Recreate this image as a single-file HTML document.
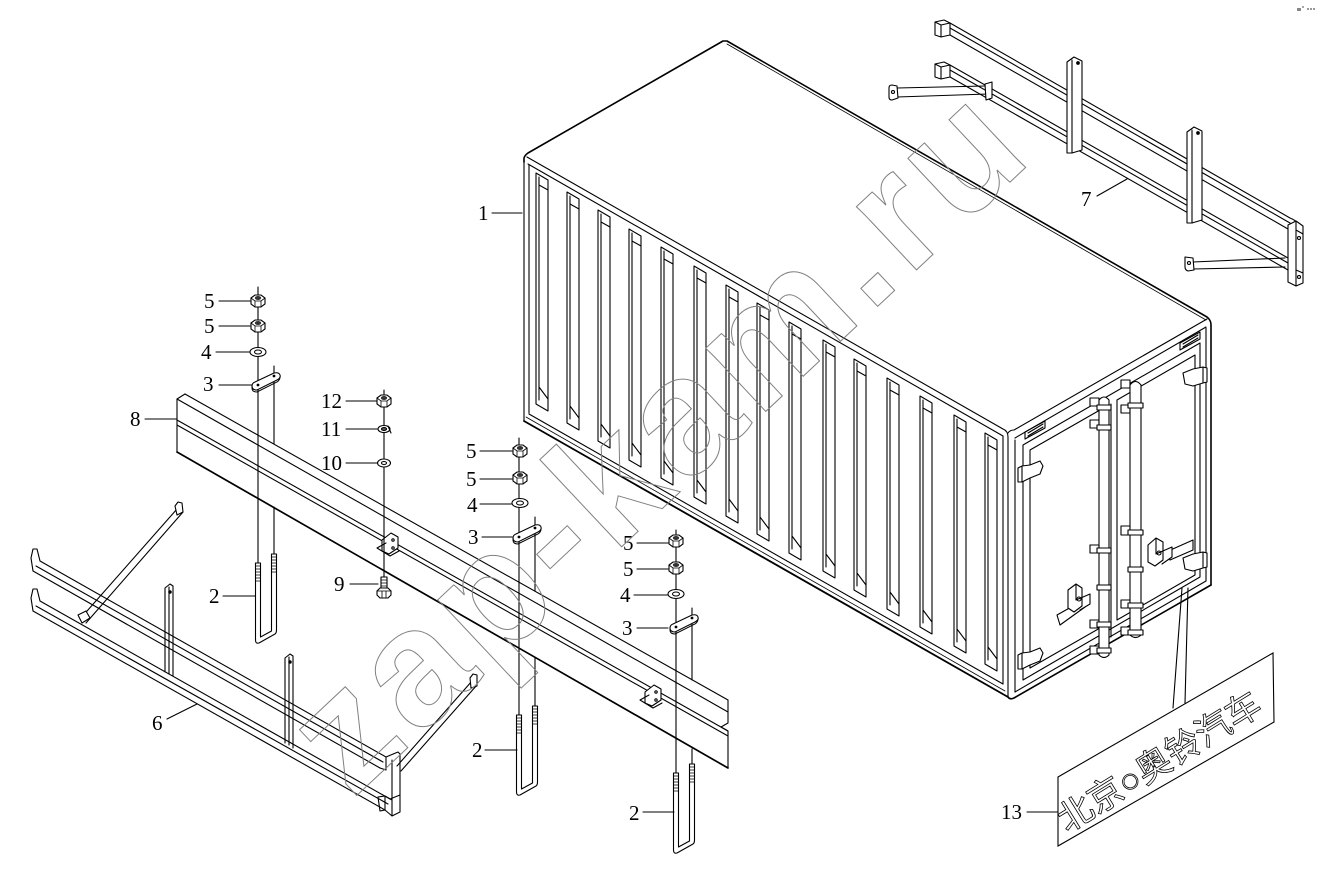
<!DOCTYPE html>
<html><head><meta charset="utf-8"><style>
html,body{margin:0;padding:0;background:#fff;}
svg{display:block;}
.l{fill:none;stroke:#000;stroke-width:1.1;stroke-linejoin:round;stroke-linecap:round;}
.t{font-family:"Liberation Serif",serif;font-size:21px;fill:#000;}
</style></head><body>
<svg width="1321" height="873" viewBox="0 0 1321 873" xmlns="http://www.w3.org/2000/svg" xmlns:xlink="http://www.w3.org/1999/xlink">
<defs>
 <g id="slot" class="l">
  <path d="M0,0 L12,7 L12,238 L0,231 Z"/>
  <path d="M3,4 L3,227 M3,12 L12,17 M3,214 L12,226"/>
 </g>
 <g id="nut">
  <path d="M-7,-3 L-3,-6 L3,-6 L7,-3 L7,3 L3,6 L-3,6 L-7,3 Z" fill="#fff" stroke="#000" stroke-width="1.1"/>
  <path d="M-7,-3 L-3,0 L3,0 L7,-3 M-3,0 V6 M3,0 V6" fill="none" stroke="#000" stroke-width="0.8"/>
  <ellipse cx="0" cy="-3" rx="3.2" ry="2" fill="#333"/>
 </g>
 <g id="washer">
  <ellipse rx="8" ry="4.5" fill="#fff" stroke="#000" stroke-width="1.1"/>
  <ellipse rx="3.5" ry="2" fill="#fff" stroke="#000" stroke-width="1"/>
 </g>
 <g id="plate">
  <path d="M-6,1 Q-6,5 -1,5 L19,-5 Q23,-7 22,-10 Q21,-13 16,-12 L-3,-3 Q-6,-2 -6,1 Z" fill="#fff" stroke="#000" stroke-width="1.1"/>
  <path d="M-6,1 L-6,3 Q-6,7 -1,7 L19,-3 Q22,-5 22,-8" fill="none" stroke="#000" stroke-width="1"/>
  <circle cx="0" cy="0" r="1.4" fill="#000"/><circle cx="16" cy="-9" r="1.4" fill="#000"/>
 </g>
 <g id="ubolt" class="l">
  <path d="M-2.5,0 L-2.5,77 Q-2.5,81 1,80 L17,71 Q18.5,70 18.5,67 L18.5,-9 L13.5,-9 L13.5,68 L2.5,74 L2.5,0 Z" fill="#fff"/>
  <path d="M-2.5,3h5M-2.5,6h5M-2.5,9h5M-2.5,12h5M-2.5,15h5M-2.5,18h5 M13.5,-6h5M13.5,-3h5M13.5,0h5M13.5,3h5M13.5,6h5M13.5,9h5" stroke-width="0.8"/>
 </g>
</defs>

<rect width="1321" height="873" fill="#fff"/>

<!-- tiny marks top right -->
<rect x="1297" y="8" width="4" height="3" fill="#888"/><rect x="1302" y="6" width="2" height="2" fill="#aaa"/>
<rect x="1307" y="8" width="2" height="2" fill="#999"/><rect x="1310" y="8" width="2" height="2" fill="#999"/><rect x="1313" y="8" width="2" height="2" fill="#999"/>

<!-- ================= CONTAINER ================= -->
<g class="l">
 <path d="M524,162 L524,158 Q525,155 528,153 L723,41 L727,41 L1207,317 Q1211,320 1211,325 L1211,585" stroke-width="1.6"/>
 <path d="M727,44 L1206,320" stroke-width="0.8"/>
 <path d="M527,157 L1003,429 Q1008,431 1008,437 L1008,697"/>
 <path d="M1008,433 Q1010,430 1014,430 L1207,319"/>
 <path d="M524,160 L524,421"/>
 <path d="M529,165 L529,413"/>
 <path d="M528,164 L1003,436"/>
 <path d="M529,414 L1003,684"/>
 <path d="M524,421 L1008,697" stroke-width="1.8"/>
 <path d="M526,417 L1005,691" stroke-width="0.8"/>
 <path d="M1003,436 L1003,684"/>
 <path d="M1015,438 L1206,327"/>
 <path d="M1015,440 L1015,692"/>
 <path d="M1206,328 L1206,581"/>
 <path d="M1008,697 Q1010,700 1014,698 L1211,585" stroke-width="1.6"/>
 <path d="M1015,692 L1206,581"/>
 <path d="M1023,445 L1200,343 L1200,577 L1023,680 Z"/>
 <path d="M1030,450 L1100,410 L1100,628 L1030,668 Z"/>
 <path d="M1117,400 L1195,355 L1195,575 L1117,620 Z"/>
 <path d="M1106,407 L1106,640 M1111,404 L1111,637"/>
 <path d="M1025,432 L1045,421 L1045,428 L1025,439 Z M1028,433 L1043,424 M1028,436 L1043,427"/>
 <path d="M1180,343 L1200,332 L1200,339 L1180,350 Z M1183,344 L1198,335 M1183,347 L1198,338"/>
 <path d="M1018,468 L1022,466 L1030,465 L1040,461 L1043,466 L1040,474 L1030,478 L1022,482 L1018,482 Z M1022,466 L1022,482" fill="#fff"/>
 <path d="M1018,655 L1022,653 L1030,652 L1040,648 L1043,653 L1040,661 L1030,665 L1022,669 L1018,669 Z M1022,653 L1022,669" fill="#fff"/>
 <path d="M1183,373 L1193,369 L1203,367 L1207,368 L1207,382 L1203,383 L1193,386 L1185,384 Z M1203,367 L1203,383" fill="#fff"/>
 <path d="M1183,558 L1193,554 L1203,552 L1207,553 L1207,567 L1203,568 L1193,571 L1185,569 Z M1203,552 L1203,568" fill="#fff"/>
 <rect x="1090" y="398" width="9" height="8" fill="#fff"/>
 <rect x="1090" y="420" width="9" height="8" fill="#fff"/>
 <rect x="1090" y="545" width="9" height="8" fill="#fff"/>
 <rect x="1090" y="620" width="9" height="8" fill="#fff"/>
 <rect x="1090" y="646" width="9" height="8" fill="#fff"/>
 <rect x="1121" y="380" width="9" height="8" fill="#fff"/>
 <rect x="1121" y="405" width="9" height="8" fill="#fff"/>
 <rect x="1121" y="526" width="9" height="9" fill="#fff"/>
 <rect x="1121" y="600" width="9" height="8" fill="#fff"/>
 <rect x="1121" y="627" width="9" height="8" fill="#fff"/>
 <path d="M1099,655 L1099,400 Q1104,394 1109,400 L1109,655 Q1104,660 1099,655 Z" fill="#fff"/>
 <path d="M1130,635 L1130,385 Q1135.5,378 1141,385 L1141,635 Q1135.5,640 1130,635 Z" fill="#fff"/>
 <path d="M1097,405h14v5h-14z M1097,425h14v5h-14z M1097,548h14v5h-14z M1097,585h14v5h-14z M1097,622h14v5h-14z M1097,648h14v5h-14z" fill="#fff"/>
 <path d="M1128,403h15v5h-15z M1128,530h15v5h-15z M1128,567h15v5h-15z M1128,603h15v5h-15z M1128,630h15v5h-15z" fill="#fff"/>
 <path d="M1057,615 L1082,601 L1085,607 L1060,625 Z" fill="#fff"/>
 <path d="M1068,590 L1076,584 L1082,588 L1082,606 L1074,612 L1068,608 Z M1076,584 L1076,600 L1090,594 L1090,604 L1080,610" fill="#fff"/>
 <circle cx="1079" cy="599" r="2"/>
 <path d="M1166,552 L1193,540 L1193,550 L1170,560 Z" fill="#fff"/>
 <path d="M1148,545 L1156,538 L1163,542 L1163,560 L1155,566 L1148,562 Z M1156,538 L1156,554 L1172,547 L1172,557 L1162,564" fill="#fff"/>
 <circle cx="1159" cy="553" r="2"/>
</g>
<use xlink:href="#slot" href="#slot" x="536" y="173"/>
<use xlink:href="#slot" href="#slot" x="567" y="192"/>
<use xlink:href="#slot" href="#slot" x="598" y="210"/>
<use xlink:href="#slot" href="#slot" x="629" y="229"/>
<use xlink:href="#slot" href="#slot" x="661" y="247"/>
<use xlink:href="#slot" href="#slot" x="694" y="266"/>
<use xlink:href="#slot" href="#slot" x="726" y="285"/>
<use xlink:href="#slot" href="#slot" x="757" y="303"/>
<use xlink:href="#slot" href="#slot" x="789" y="322"/>
<use xlink:href="#slot" href="#slot" x="823" y="340"/>
<use xlink:href="#slot" href="#slot" x="854" y="359"/>
<use xlink:href="#slot" href="#slot" x="887" y="378"/>
<use xlink:href="#slot" href="#slot" x="920" y="396"/>
<use xlink:href="#slot" href="#slot" x="954" y="415"/>
<use xlink:href="#slot" href="#slot" x="985" y="433"/>

<!-- ================= FRAME 7 (top right) ================= -->
<g class="l">
 <path d="M950,23 L1290,218 Q1300,222 1302,230 M950,28 L1290,223 M950,35 L1288,229"/>
 <path d="M935,22 L944,20 L950,23 L950,35 L941,37 L935,35 Z M935,22 L941,25 L950,23 M941,25 L941,37" fill="#fff"/>
 <path d="M950,65 L1288,258 M950,70 L1288,263 M950,77 L1288,270"/>
 <path d="M935,64 L944,62 L950,65 L950,77 L941,79 L935,77 Z M935,64 L941,67 L950,65 M941,67 L941,79" fill="#fff"/>
 <path d="M1067,62 L1074,57 L1082,61 L1082,150 L1072,153 L1067,153 Z" fill="#fff"/>
 <path d="M1072,60 L1072,153"/>
 <circle cx="1078" cy="63" r="1.3" fill="#000"/>
 <path d="M1187,132 L1194,127 L1202,131 L1202,220 L1192,223 L1187,223 Z" fill="#fff"/>
 <path d="M1192,130 L1192,223"/>
 <circle cx="1198" cy="133" r="1.3" fill="#000"/>
 <path d="M1288,225 L1296,221 L1303,226 L1303,283 L1296,286 L1288,282 Z" fill="#fff"/>
 <path d="M1296,222 L1296,286 M1296,230 L1303,234 M1296,270 L1303,273"/>
 <circle cx="1299" cy="238" r="1.5"/><circle cx="1299" cy="277" r="1.5"/>
 <path d="M897,88 L985,86 M897,97 L988,94"/>
 <path d="M889,88 Q889,85 892,85 L897,86 L898,98 L892,100 Q889,100 889,97 Z" fill="#fff"/>
 <circle cx="893" cy="92" r="1.5"/>
 <path d="M985,84 L992,82 L992,98 L986,100 Z" fill="#fff"/>
 <path d="M1193,262 L1285,258 M1193,269 L1285,267"/>
 <path d="M1185,257 L1193,258 L1194,270 L1188,271 Q1185,270 1185,267 Z" fill="#fff"/>
 <circle cx="1189" cy="263" r="1.5"/>
</g>

<!-- ================= FRAME 6 (bottom left) ================= -->
<g class="l">
 <path d="M165,588 L170,584 L173,586 L173,676 M165,588 L165,672 M169,587 L169,674"/>
 <circle cx="170" cy="592" r="1.2" fill="#000"/>
 <path d="M285,658 L290,654 L293,656 L293,748 M285,658 L285,743 M289,657 L289,745"/>
 <circle cx="290" cy="662" r="1.2" fill="#000"/>
 <path d="M177,509 L80,619 M183,512 L86,623"/>
 <path d="M175,506 L178,502 L182,503 L183,512 L177,515 Z" fill="#fff"/>
 <path d="M78,615 L86,611 L90,618 L82,623 Z" fill="#fff"/>
 <path d="M472,681 L397,766 M477,685 L401,771"/>
 <path d="M470,678 L473,674 L477,675 L477,686 L471,688 Z" fill="#fff"/>
 <path d="M40,561 L386,757 M36,566 L383,762 M33,571 L380,768"/>
 <path d="M33,571 L31,558 L33,549 L37,549 L40,561"/>
 <path d="M40,601 L390,799 M36,606 L388,804 M33,611 L385,810"/>
 <path d="M33,611 L31,598 L33,589 L37,589 L40,601"/>
 <path d="M386,757 L398,752 L400,754 L400,812 L392,816 L385,810 M386,757 L386,770 L380,768 M392,760 L392,816 M385,796 L392,800 M390,799 L400,795"/>
 <path d="M378,797 L385,796 L385,810 L380,811 Z"/>
</g>

<!-- ================= BEAM 8 ================= -->
<g class="l">
 <path d="M185,394 L728,700"/>
 <path d="M177,399 L728,712"/>
 <path d="M177,420 L728,731 M177,425 L728,736"/>
 <path d="M177,452 L728,768" stroke-width="1.7"/>
 <path d="M177,399 L177,452 M177,399 L185,394"/>
 <path d="M728,700 L728,723 L721,727 L728,731 L728,768"/>
 <path d="M382,540 L391,533 L398,537 L398,548 L389,554 L382,551 Z" fill="#fff"/>
 <path d="M377,548 L390,556 L399,551 M377,548 L386,543" />
 <circle cx="393" cy="540" r="1.2"/><circle cx="393" cy="548" r="1.2"/>
 <path d="M645,692 L654,685 L661,689 L661,700 L652,706 L645,703 Z" fill="#fff"/>
 <path d="M640,700 L653,708 L662,703 M640,700 L649,695"/>
 <circle cx="656" cy="692" r="1.2"/><circle cx="656" cy="700" r="1.2"/>
</g>

<!-- ================= BOLT STACKS ================= -->
<g class="l">
 <path d="M258,287 L258,563"/>
 <path d="M274,366 L274,444 M274,507 L274,555"/>
 <path d="M519,438 L519,715"/>
 <path d="M535,517 L535,591 M535,658 L535,706"/>
 <path d="M676,530 L676,773"/>
 <path d="M692,608 L692,680 M692,749 L692,764"/>
 <path d="M384,390 L384,578"/>
</g>
<use xlink:href="#nut" href="#nut" x="258" y="301"/>
<use xlink:href="#nut" href="#nut" x="258" y="326"/>
<use xlink:href="#washer" href="#washer" x="258" y="352"/>
<use xlink:href="#plate" href="#plate" x="258" y="385"/>
<use xlink:href="#ubolt" href="#ubolt" x="258" y="563"/>

<use xlink:href="#nut" href="#nut" x="520" y="451"/>
<use xlink:href="#nut" href="#nut" x="520" y="478"/>
<use xlink:href="#washer" href="#washer" x="520" y="503"/>
<use xlink:href="#plate" href="#plate" x="519" y="537"/>
<use xlink:href="#ubolt" href="#ubolt" x="519" y="715"/>

<use xlink:href="#nut" href="#nut" x="676" y="541"/>
<use xlink:href="#nut" href="#nut" x="676" y="568"/>
<use xlink:href="#washer" href="#washer" x="676" y="594"/>
<use xlink:href="#plate" href="#plate" x="676" y="627"/>
<use xlink:href="#ubolt" href="#ubolt" x="676" y="773"/>

<use xlink:href="#nut" href="#nut" x="384" y="401"/>
<g class="l">
 <ellipse cx="384" cy="429" rx="6" ry="3.5" fill="#fff"/>
 <ellipse cx="384" cy="429" rx="2.5" ry="1.5" fill="#555"/>
 <path d="M388,426 L391,433"/>
 <ellipse cx="384" cy="463" rx="6.5" ry="4" fill="#fff"/>
 <ellipse cx="384" cy="463" rx="2.5" ry="1.5"/>
 <path d="M381,577 L387,577 L387,590 L381,590 Z" fill="#fff"/>
 <path d="M381,580h6M381,583h6M381,586h6" stroke-width="0.8"/>
 <path d="M377,591 L380,588 L388,588 L391,591 L391,595 L388,598 L380,598 L377,595 Z" fill="#fff"/>
 <path d="M377,591 L391,591 M382,591 L382,598 M386,591 L386,598" stroke-width="0.8"/>
</g>

<!-- ================= LEADERS ================= -->
<g class="l" stroke-width="1">
 <path d="M492,213 L522,213"/>
 <path d="M219,301 L250,301 M219,326 L250,326 M216,352 L250,352 M219,385 L252,385"/>
 <path d="M145,419 L177,419"/>
 <path d="M346,401 L377,401 M346,429 L377,429 M346,463 L377,463 M350,584 L378,584"/>
 <path d="M223,596 L255,596"/>
 <path d="M167,719 L197,704"/>
 <path d="M480,451 L512,451 M480,479 L512,479 M480,504 L512,504 M482,537 L512,537 M485,750 L517,750"/>
 <path d="M637,543 L668,543 M637,569 L668,569 M634,595 L668,595 M637,628 L668,628 M643,812 L674,812"/>
 <path d="M1097,196 L1127,179"/>
 <path d="M1027,812 L1058,812"/>
 <path d="M1182,588 L1173,708 M1188,588 L1185,703"/>
</g>

<!-- ================= PLATE 13 ================= -->
<path d="M1058,777 L1273,653 L1274,722 L1058,846 Z" fill="#fff" stroke="#000" stroke-width="1.1"/>
<text transform="translate(1067,833) rotate(-31.7)" x="0" y="0" font-family="'Liberation Sans','Noto Sans CJK SC',sans-serif" font-size="35" textLength="232" lengthAdjust="spacingAndGlyphs" fill="#fff" stroke="#000" stroke-width="0.8">北京○奥铃汽车</text>

<!-- ================= LABELS ================= -->
<g class="t">
 <text x="478" y="220">1</text>
 <text x="204" y="308">5</text>
 <text x="204" y="333">5</text>
 <text x="201" y="359">4</text>
 <text x="203" y="391">3</text>
 <text x="130" y="426">8</text>
 <text x="321" y="408">12</text>
 <text x="321" y="436">11</text>
 <text x="321" y="470">10</text>
 <text x="334" y="591">9</text>
 <text x="209" y="603">2</text>
 <text x="152" y="730">6</text>
 <text x="466" y="458">5</text>
 <text x="466" y="486">5</text>
 <text x="467" y="512">4</text>
 <text x="468" y="544">3</text>
 <text x="472" y="757">2</text>
 <text x="623" y="550">5</text>
 <text x="623" y="576">5</text>
 <text x="620" y="602">4</text>
 <text x="622" y="635">3</text>
 <text x="629" y="820">2</text>
 <text x="1081" y="206">7</text>
 <text x="1001" y="819">13</text>
</g>

<!-- ================= WATERMARK ================= -->
<text transform="translate(352,800) rotate(-43.2)" x="0" y="0" font-family="'Liberation Sans',sans-serif" font-weight="bold" font-size="165" textLength="935" lengthAdjust="spacing" fill="none" stroke="#808080" stroke-width="1">zap-kam.ru</text>
</svg>
</body></html>
